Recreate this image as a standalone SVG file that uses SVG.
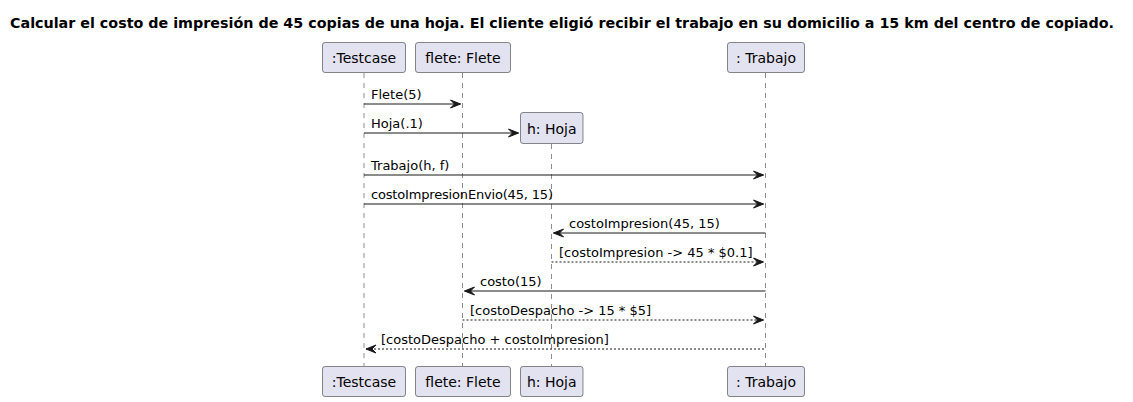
<svg xmlns="http://www.w3.org/2000/svg" width="1133" height="402" viewBox="0 0 1133 402">
<style>
.box{fill:#E2E2F0;stroke:#181818;stroke-width:0.5}
.pt{font-family:"DejaVu Sans",sans-serif;font-size:14px;fill:#000}
.mt{font-family:"DejaVu Sans",sans-serif;font-size:13px;fill:#000}
.ll{stroke:#181818;stroke-width:0.5;stroke-dasharray:5,5;fill:none}
.msg{stroke:#181818;stroke-width:1;fill:none}
.ret{stroke:#181818;stroke-width:1;fill:none;stroke-dasharray:2,2}
.ah{fill:#181818;stroke:#181818;stroke-width:1}
.title{font-family:"DejaVu Sans",sans-serif;font-size:14px;font-weight:bold;fill:#000}
</style>
<rect width="1133" height="402" fill="#FFFFFF"/>
<text class="title" x="10" y="28" textLength="1104" lengthAdjust="spacingAndGlyphs">Calcular el costo de impresión de 45 copias de una hoja. El cliente eligió recibir el trabajo en su domicilio a 15 km del centro de copiado.</text>
<g id="lifelines">
<line class="ll" x1="364" y1="73" x2="364" y2="366"/>
<line class="ll" x1="462.5" y1="73" x2="462.5" y2="366"/>
<line class="ll" x1="551.5" y1="144" x2="551.5" y2="366"/>
<line class="ll" x1="765.5" y1="73" x2="765.5" y2="366"/>
</g>
<g id="testcase">
<rect class="box" x="322.5" y="42.5" width="83" height="30" rx="2.5"/>
<text class="pt" x="364" y="63" text-anchor="middle">:Testcase</text>
<rect class="box" x="322.5" y="366.5" width="83" height="30" rx="2.5"/>
<text class="pt" x="364" y="387" text-anchor="middle">:Testcase</text>
</g>
<g id="flete">
<rect class="box" x="415.5" y="42.5" width="95" height="30" rx="2.5"/>
<text class="pt" x="463" y="63" text-anchor="middle">flete: Flete</text>
<rect class="box" x="415.5" y="366.5" width="95" height="30" rx="2.5"/>
<text class="pt" x="463" y="387" text-anchor="middle">flete: Flete</text>
</g>
<g id="hoja">
<rect class="box" x="520.5" y="112.5" width="62.5" height="31" rx="2.5"/>
<text class="pt" x="551.75" y="133.5" text-anchor="middle">h: Hoja</text>
<rect class="box" x="520.5" y="366.5" width="62.5" height="30" rx="2.5"/>
<text class="pt" x="551.75" y="387" text-anchor="middle">h: Hoja</text>
</g>
<g id="trabajo">
<rect class="box" x="727.5" y="42.5" width="77" height="30" rx="2.5"/>
<text class="pt" x="766" y="63" text-anchor="middle">: Trabajo</text>
<rect class="box" x="727.5" y="366.5" width="77" height="30" rx="2.5"/>
<text class="pt" x="766" y="387" text-anchor="middle">: Trabajo</text>
</g>
<g id="connectors">
<line class="msg" x1="364" y1="104" x2="460.5" y2="104"/>
<polygon class="ah" points="450.5,100 460.5,104 450.5,108 454.5,104"/>
<text class="mt" x="371" y="99">Flete(5)</text>

<line class="msg" x1="364" y1="133" x2="518.5" y2="133"/>
<polygon class="ah" points="508.5,129 518.5,133 508.5,137 512.5,133"/>
<text class="mt" x="371" y="128">Hoja(.1)</text>

<line class="msg" x1="364" y1="175" x2="763.5" y2="175"/>
<polygon class="ah" points="753.5,171 763.5,175 753.5,179 757.5,175"/>
<text class="mt" x="371" y="170">Trabajo(h, f)</text>

<line class="msg" x1="364" y1="204" x2="763.5" y2="204"/>
<polygon class="ah" points="753.5,200 763.5,204 753.5,208 757.5,204"/>
<text class="mt" x="371" y="199" textLength="182" lengthAdjust="spacing">costoImpresionEnvio(45, 15)</text>

<line class="msg" x1="553.5" y1="233" x2="765.5" y2="233"/>
<polygon class="ah" points="563.5,229 553.5,233 563.5,237 559.5,233"/>
<text class="mt" x="569" y="228">costoImpresion(45, 15)</text>

<line class="ret" x1="551.5" y1="262" x2="763.5" y2="262"/>
<polygon class="ah" points="753.5,258 763.5,262 753.5,266 757.5,262"/>
<text class="mt" x="559" y="257">[costoImpresion -&gt; 45 * $0.1]</text>

<line class="msg" x1="464.5" y1="291" x2="765.5" y2="291"/>
<polygon class="ah" points="474.5,287 464.5,291 474.5,295 470.5,291"/>
<text class="mt" x="480" y="286">costo(15)</text>

<line class="ret" x1="462.5" y1="320" x2="763.5" y2="320"/>
<polygon class="ah" points="753.5,316 763.5,320 753.5,324 757.5,320"/>
<text class="mt" x="470" y="315">[costoDespacho -&gt; 15 * $5]</text>

<line class="ret" x1="366" y1="349" x2="765.5" y2="349"/>
<polygon class="ah" points="376,345 366,349 376,353 372,349"/>
<text class="mt" x="381" y="344">[costoDespacho + costoImpresion]</text>
</g>
</svg>
